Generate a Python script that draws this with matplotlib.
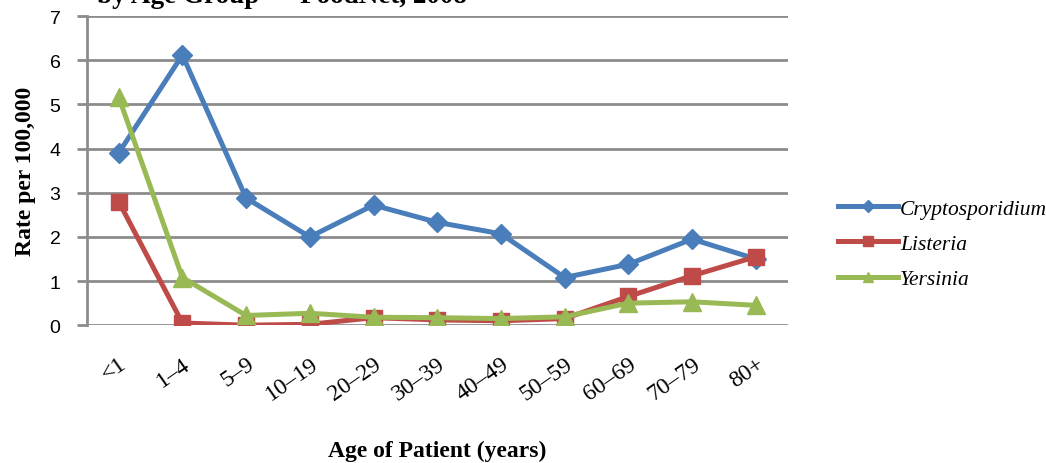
import matplotlib
matplotlib.use("Agg")
import matplotlib.pyplot as plt

ages = ["<1", "1\u20134", "5\u20139", "10\u201319", "20\u201329", "30\u201339",
        "40\u201349", "50\u201359", "60\u201369", "70\u201379", "80+"]
crypto = [3.9, 6.12, 2.88, 2.0, 2.72, 2.33, 2.07, 1.08, 1.38, 1.95, 1.5]
listeria = [2.8, 0.05, 0.0, 0.02, 0.17, 0.12, 0.1, 0.15, 0.65, 1.12, 1.55]
yersinia = [5.17, 1.08, 0.22, 0.27, 0.18, 0.17, 0.15, 0.19, 0.5, 0.53, 0.45]

serif = "Liberation Serif"

fig = plt.figure(figsize=(10.46, 4.64), dpi=100)
ax = fig.add_axes([0.083, 0.297, 0.67, 0.666])

x = range(len(ages))
ax.plot(x, crypto, color="#4a7ebb", lw=3.6, marker="D", ms=10, label="Cryptosporidium", zorder=3)
ax.plot(x, listeria, color="#be4b48", lw=3.6, marker="s", ms=12, label="Listeria", zorder=4)
ax.plot(x, yersinia, color="#98b954", lw=3.6, marker="^", ms=13, label="Yersinia", zorder=5)

ax.set_xlim(-0.5, len(ages) - 0.5)
ax.set_ylim(0, 7)
ax.set_yticks(range(0, 8))
ax.grid(axis="y", color="#8c8c8c", lw=2)
ax.set_axisbelow(True)
for s in ["top", "right", "bottom"]:
    ax.spines[s].set_visible(False)
ax.spines["left"].set_color("#8c8c8c")
ax.spines["left"].set_linewidth(2)
ax.tick_params(axis="y", color="#8c8c8c", width=2, length=7, labelsize=14, pad=12)
ax.tick_params(axis="x", length=0, pad=20)
for lab in ax.get_yticklabels():
    lab.set_family("Liberation Sans")

ax.set_xticks(list(x))
ax.set_xticklabels(ages, rotation=35, ha="right", rotation_mode="anchor",
                   family=serif, fontsize=17)

ax.set_ylabel("Rate per 100,000", family=serif, fontweight="bold", fontsize=17, labelpad=10)
ax.set_xlabel("Age of Patient (years)", family=serif, fontweight="bold", fontsize=17, labelpad=26)

leg = ax.legend(loc="center left", bbox_to_anchor=(0.7925, 0.472),
                bbox_transform=fig.transFigure, borderaxespad=0, frameon=False,
                prop={"family": serif, "style": "italic", "size": 15.5},
                handlelength=2.8, labelspacing=0.7, handletextpad=0.1, markerscale=0.6)

# title of the original figure, cut off at the top edge
fig.text(0.093, 0.9935, "by Age Group \u2014 FoodNet, 2008", family=serif,
         fontweight="bold", fontsize=19.5, va="baseline", ha="left")

fig.savefig("out.png", dpi=100)
